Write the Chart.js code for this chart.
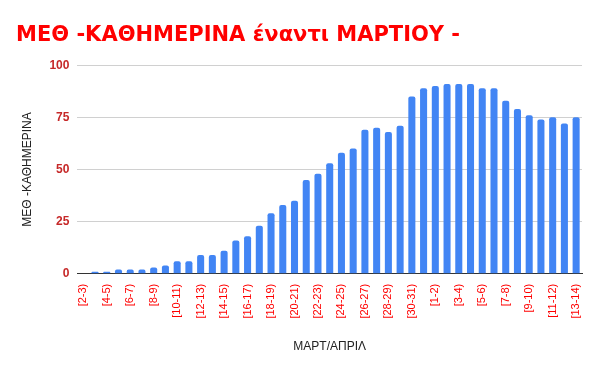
<!DOCTYPE html>
<html>
<head>
<meta charset="utf-8">
<script src="https://cdn.jsdelivr.net/npm/chart.js@4"></script>
<style>
  html, body { margin: 0; padding: 0; background: #fff; }
  #wrap { width: 600px; height: 371px; }
</style>
</head>
<body>
<div id="wrap"><canvas id="icu-chart" width="600" height="371"></canvas></div>
<script>
// days: March 2 -> April 14
const dayLabels = [
  "[2-3)", "[3-4)", "[4-5)", "[5-6)", "[6-7)", "[7-8)", "[8-9)", "[9-10)",
  "[10-11)", "[11-12)", "[12-13)", "[13-14)", "[14-15)", "[15-16)", "[16-17)",
  "[17-18)", "[18-19)", "[19-20)", "[20-21)", "[21-22)", "[22-23)", "[23-24)",
  "[24-25)", "[25-26)", "[26-27)", "[27-28)", "[28-29)", "[29-30)", "[30-31)",
  "[31-1)", "[1-2)", "[2-3)", "[3-4)", "[4-5)", "[5-6)", "[6-7)", "[7-8)",
  "[8-9)", "[9-10)", "[10-11)", "[11-12)", "[12-13)", "[13-14)"
];

// ICU patients per day
const icuValues = [
  0, 1, 1, 2, 2, 2, 3, 4, 6, 6, 9, 9, 11, 16, 18,
  23, 29, 33, 35, 45, 48, 53, 58, 60, 69, 70, 68, 71, 85,
  89, 90, 91, 91, 91, 89, 89, 83, 79, 76, 74, 75, 72, 75
];

const yTicks = [0, 25, 50, 75, 100];

const ctx = document.getElementById("icu-chart").getContext("2d");

new Chart(ctx, {
  type: "bar",
  data: {
    labels: dayLabels,
    datasets: [{
      label: "ΜΕΘ -ΚΑΘΗΜΕΡΙΝΑ",
      data: icuValues,
      backgroundColor: "#4285f4",
      borderRadius: { topLeft: 2, topRight: 2 },
      borderSkipped: "bottom",
      categoryPercentage: 1.0,
      barPercentage: 0.6
    }]
  },
  options: {
    responsive: false,
    animation: false,
    layout: { padding: { left: 16, right: 18, top: 23, bottom: 13 } },
    scales: {
      x: {
        grid: { display: false },
        border: { color: "#333", width: 1 },
        ticks: {
          autoSkip: false,
          maxRotation: 90,
          minRotation: 90,
          color: "#ff0000",
          font: { family: "Liberation Sans", size: 11 },
          padding: 2,
          callback: function (val, i) {
            return i % 2 === 0 ? dayLabels[i] : "";
          }
        },
        title: {
          display: true,
          text: "ΜΑΡΤ/ΑΠΡΙΛ",
          color: "#222",
          font: { family: "Liberation Sans", size: 12 },
          padding: { top: 19 }
        }
      },
      y: {
        min: 0,
        max: 100,
        afterBuildTicks: function (axis) {
          axis.ticks = yTicks.map(v => ({ value: v }));
        },
        border: { display: false },
        grid: { color: "#d0d0d0", drawTicks: false },
        ticks: {
          color: "#c62828",
          font: { family: "Liberation Sans", size: 12, weight: "bold" },
          padding: 8
        },
        title: {
          display: true,
          text: "ΜΕΘ -ΚΑΘΗΜΕΡΙΝΑ",
          color: "#222",
          font: { family: "Liberation Sans", size: 12 },
          padding: { bottom: 7 }
        }
      }
    },
    plugins: {
      legend: { display: false },
      tooltip: { enabled: false },
      title: {
        display: true,
        text: "ΜΕΘ -ΚΑΘΗΜΕΡΙΝΑ έναντι ΜΑΡΤΙΟΥ -",
        align: "start",
        color: "#ff0000",
        font: { family: "DejaVu Sans", size: 21, weight: "bold" },
        padding: { top: 0, bottom: 17 }
      }
    }
  }
});
</script>
</body>
</html>
